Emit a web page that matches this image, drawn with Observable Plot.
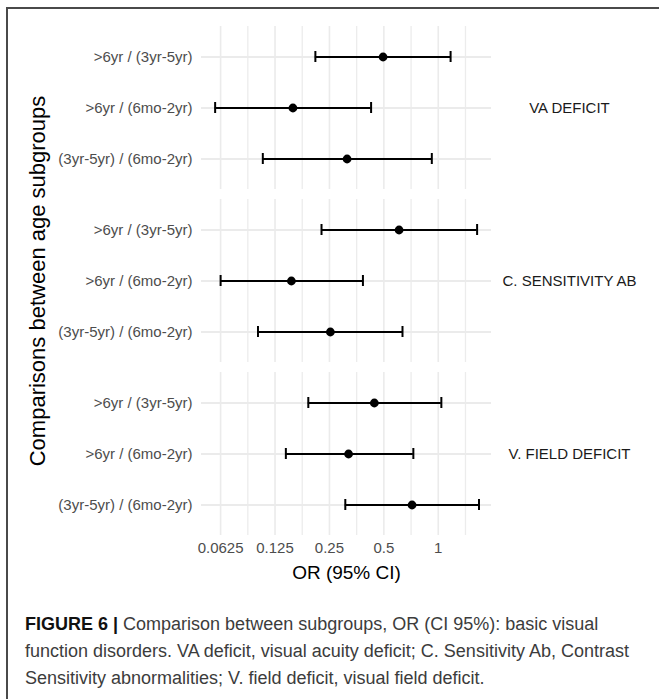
<!DOCTYPE html>
<html>
<head>
<meta charset="utf-8">
<script src="https://cdn.jsdelivr.net/npm/d3@7"></script>
<script src="https://cdn.jsdelivr.net/npm/@observablehq/plot@0.6"></script>
<style>
  html, body { margin: 0; padding: 0; background: #fff; }
  #wrap { position: relative; width: 659px; height: 699px; overflow: hidden; font-family: "Liberation Sans", Arial, sans-serif; }
  #frame { position: absolute; left: 6px; top: 7px; width: 660px; height: 700px; border-top: 2px solid #4a4a4a; border-left: 2px solid #4a4a4a; pointer-events: none; z-index: 2; }
  .caption { position: absolute; left: 25px; top: 611px; font-size: 18px; line-height: 27px; color: #3c3c3c; white-space: nowrap; }
  .caption b { color: #111; }
</style>
</head>
<body>
<div id="wrap">
  <div id="chart"></div>
  <div class="caption"><b>FIGURE 6 |</b> Comparison between subgroups, OR (CI 95%): basic visual<br>function disorders. VA deficit, visual acuity deficit; C. Sensitivity Ab, Contrast<br>Sensitivity abnormalities; V. field deficit, visual field deficit.</div>
  <div id="frame"></div>
</div>
<script>
// ---- data ----
const outcomes = ["VA DEFICIT", "C. SENSITIVITY AB", "V. FIELD DEFICIT"];
const comparisons = [">6yr / (3yr-5yr)", ">6yr / (6mo-2yr)", "(3yr-5yr) / (6mo-2yr)"];
const orValues = [0.495, 0.157, 0.313, 0.607, 0.154, 0.253, 0.443, 0.319, 0.716];
const ciLower  = [0.209, 0.0583, 0.107, 0.226, 0.0625, 0.1006, 0.191, 0.1435, 0.306];
const ciUpper  = [1.17, 0.425, 0.921, 1.64, 0.383, 0.634, 1.04, 0.728, 1.68];
const xTicks = [0.0625, 0.125, 0.25, 0.5, 1];
const xTickLabels = ["0.0625", "0.125", "0.25", "0.5", "1"];
const xMinorGrid = [0.0884, 0.1768, 0.3536, 0.7071, 1.4142];
const xTitle = "OR (95% CI)";
const yTitle = "Comparisons between age subgroups";

const rows = outcomes.flatMap((o, i) => comparisons.map((c, j) => ({
  outcome: o, comparison: c,
  or: orValues[i * 3 + j], lo: ciLower[i * 3 + j], hi: ciUpper[i * 3 + j]
})));

const chart = Plot.plot({
  width: 659,
  height: 600,
  marginLeft: 201,
  marginRight: 168,
  marginTop: 26,
  marginBottom: 64,
  style: { fontFamily: "Liberation Sans, Arial, sans-serif", background: "transparent" },
  x: { type: "log", base: 2, domain: [0.049, 1.97] },
  y: { type: "band", domain: comparisons, paddingInner: 0.79, paddingOuter: 0.48 },
  fy: { domain: outcomes, paddingInner: 0.056, paddingOuter: 0, axis: null },
  marks: [
    Plot.ruleX(xMinorGrid, { stroke: "#ececec", strokeWidth: 1.3 }),
    Plot.ruleX(xTicks, { stroke: "#ebebeb", strokeWidth: 1.6 }),
    Plot.ruleY(rows, { y: "comparison", fy: "outcome", stroke: "#ebebeb", strokeWidth: 1.8 }),
    Plot.ruleY(rows, { y: "comparison", fy: "outcome", x1: "lo", x2: "hi", stroke: "#000", strokeWidth: 2 }),
    Plot.tickX(rows, { x: "lo", y: "comparison", fy: "outcome", stroke: "#000", strokeWidth: 2 }),
    Plot.tickX(rows, { x: "hi", y: "comparison", fy: "outcome", stroke: "#000", strokeWidth: 2 }),
    Plot.dot(rows, { x: "or", y: "comparison", fy: "outcome", r: 4.4, fill: "#000", stroke: null }),
    Plot.axisY({ tickSize: 0, tickPadding: 9, fontSize: 15, color: "#4d4d4d", label: null }),
    Plot.axisX(xTicks, { tickSize: 0, tickPadding: 7, fontSize: 15, color: "#4d4d4d", label: null,
      tickFormat: (d) => xTickLabels[xTicks.indexOf(d)] }),
    Plot.text(outcomes, { fy: d => d, text: d => d, frameAnchor: "right", dx: 78, textAnchor: "middle",
      fontSize: 15, fill: "#1a1a1a" }),
    Plot.text([xTitle], { fy: () => outcomes[2], text: d => d, frameAnchor: "bottom", dy: 37,
      textAnchor: "middle", lineAnchor: "middle", fontSize: 19, fill: "#000" }),
    Plot.text([yTitle], { fy: () => outcomes[1], text: d => d, frameAnchor: "left", dx: -164,
      rotate: -90, textAnchor: "middle", lineAnchor: "middle", fontSize: 22, fill: "#000" })
  ]
});
document.getElementById("chart").appendChild(chart);
</script>
</body>
</html>
